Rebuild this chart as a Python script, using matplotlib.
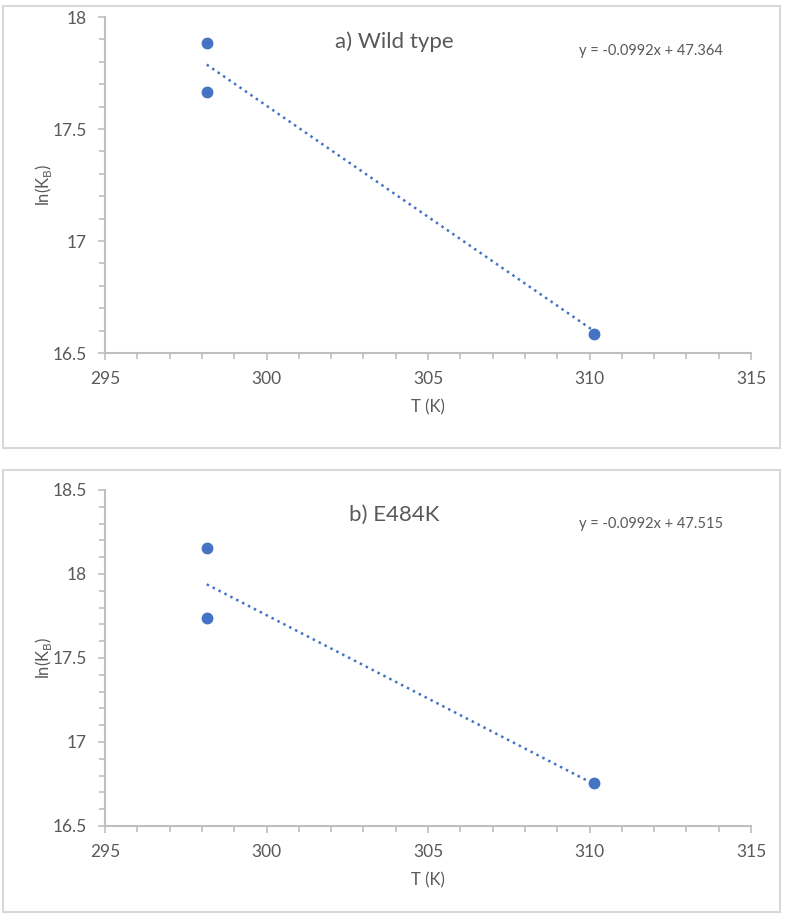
import numpy as np
import matplotlib
matplotlib.use("Agg")
import matplotlib.pyplot as plt
from matplotlib.patches import Rectangle
from matplotlib.ticker import MultipleLocator

plt.rcParams["font.family"] = ["Lato", "DejaVu Sans"]

# data
T_a = [298.15, 298.15, 310.15]
lnK_a = [17.885, 17.665, 16.585]
slope_a, icept_a = -0.0992, 47.364

T_b = [298.15, 298.15, 310.15]
lnK_b = [18.155, 17.738, 16.758]
slope_b, icept_b = -0.0992, 47.515

titles = ["a) Wild type", "b) E484K"]
ylims = [(16.5, 18.0), (16.5, 18.5)]
yticks = [[16.5, 17, 17.5, 18], [16.5, 17, 17.5, 18, 18.5]]
xticks = [295, 300, 305, 310, 315]

BLUE = "#4472C4"
GRID = "#BFBFBF"
TXT = "#595959"

fig = plt.figure(figsize=(7.9, 9.18), dpi=100)

# panel frames
for y0 in [1 - 448 / 918, 1 - 912 / 918]:
    fig.patches.append(Rectangle((3 / 790, y0), 777 / 790, 442 / 918,
                                 transform=fig.transFigure, fill=False,
                                 edgecolor="#D9D9D9", linewidth=1.5))

panels = [
    (T_a, lnK_a, slope_a, icept_a, 1 - 353 / 918),
    (T_b, lnK_b, slope_b, icept_b, 1 - 826 / 918),
]

for i, (T, lnK, m, b, bottom) in enumerate(panels):
    ax = fig.add_axes([105 / 790, bottom, 646 / 790, 336 / 918])
    ax.plot(T, lnK, "o", color=BLUE, markersize=7.5, zorder=3)
    xs = np.array([min(T), max(T)])
    ax.plot(xs, m * xs + b, ":", color=BLUE, linewidth=1.8)

    ax.set_xlim(295, 315)
    ax.set_ylim(*ylims[i])
    ax.set_xticks(xticks)
    ax.set_yticks(yticks[i])
    ax.set_yticklabels([f"{v:g}" for v in yticks[i]])
    ax.xaxis.set_minor_locator(MultipleLocator(1))
    ax.yaxis.set_minor_locator(MultipleLocator(0.1))
    ax.tick_params(which="both", direction="out", color=GRID, labelcolor=TXT,
                   labelsize=12.5, width=1.2)
    ax.tick_params(which="major", length=5)
    ax.tick_params(which="minor", length=4)
    ax.tick_params(axis="x", pad=8)
    ax.tick_params(axis="y", pad=8)

    for s in ["top", "right"]:
        ax.spines[s].set_visible(False)
    for s in ["left", "bottom"]:
        ax.spines[s].set_color(GRID)
        ax.spines[s].set_linewidth(1.5)

    ax.set_xlabel("T (K)", color=TXT, fontsize=12, labelpad=9)
    ax.set_ylabel("ln(K$_{\\mathregular{B}}$)", color=TXT, fontsize=12, labelpad=-1)

    ax.text(0.448, 0.925, titles[i], transform=ax.transAxes, ha="center",
            va="center", fontsize=16, color=TXT)
    sign = "+" if b >= 0 else "-"
    ax.text(0.733, 0.9, f"y = {m:.4f}x {sign} {abs(b):.3f}", transform=ax.transAxes,
            ha="left", va="center", fontsize=10.5, color=TXT)

fig.savefig("out.png", dpi=100, facecolor="white")
